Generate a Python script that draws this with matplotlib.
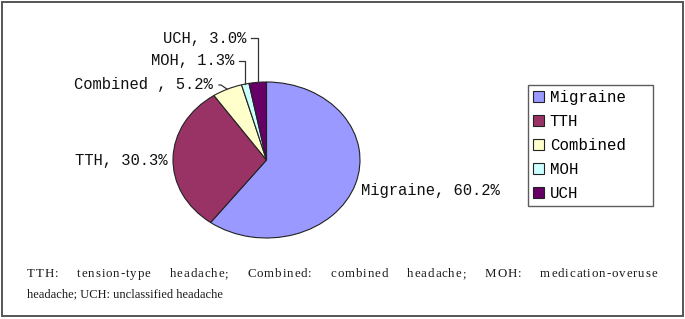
import numpy as np
import matplotlib
matplotlib.use("Agg")
import matplotlib.pyplot as plt
from matplotlib.patches import Rectangle, Patch
from matplotlib.lines import Line2D

W, H = 685, 319

labels = ['Migraine', 'TTH', 'Combined', 'MOH', 'UCH']
pie_labels = ['Migraine, 60.2%', 'TTH, 30.3%', 'Combined , 5.2%', 'MOH, 1.3%', 'UCH, 3.0%']
values = [60.2, 30.3, 5.2, 1.3, 3.0]
colors = ['#9999FF', '#993366', '#FFFFCC', '#CCFFFF', '#660066']
caption_1 = "TTH: tension-type headache; Combined: combined headache; MOH: medication-overuse"
caption_2 = "headache; UCH: unclassified headache"

mono = 'Liberation Mono'
serif = 'Liberation Serif'


def fx(x):
    return x / W


def fy(y):
    return 1 - y / H


fig = plt.figure(figsize=(W / 100, H / 100), dpi=100)
fig.patch.set_facecolor('white')

# outer frame
fig.add_artist(Rectangle((fx(2), fy(316)), fx(681), 314 / H, transform=fig.transFigure,
                         fill=False, edgecolor='#555555', linewidth=1.4))

# pie drawn as ellipse (non-equal aspect)
ax = fig.add_axes([fx(173), fy(238), fx(187), 156 / H])
wedges, _ = ax.pie(values, colors=colors, startangle=90, counterclock=False,
                   wedgeprops=dict(edgecolor='#222222', linewidth=0.8))
ax.set_aspect('auto')
ax.set_xlim(-1, 1)
ax.set_ylim(-1, 1)
ax.axis('off')


def anchor(w):
    a = np.deg2rad((w.theta1 + w.theta2) / 2)
    p = ax.transData.transform((np.cos(a), np.sin(a)))
    return fig.transFigure.inverted().transform(p)


# label positions (left x, center y) in pixels
pos = {'Migraine': (361, 190), 'TTH': (75, 161), 'Combined': (74, 85),
       'MOH': (151, 61), 'UCH': (163, 38)}
for lab, txt, w in zip(labels, pie_labels, wedges):
    x, y = pos[lab]
    fig.text(fx(x), fy(y), txt, family=mono, fontsize=11.2, ha='left', va='center',
             color='#111111')

lc = '#333333'
a = anchor(wedges[4])
fig.add_artist(Line2D([fx(251), a[0], a[0]], [fy(38), fy(38), a[1]], color=lc, lw=0.9))
a = anchor(wedges[3])
fig.add_artist(Line2D([fx(239), a[0], a[0]], [fy(61), fy(61), a[1]], color=lc, lw=0.9))
a = anchor(wedges[2])
fig.add_artist(Line2D([fx(219), fx(221), a[0]], [fy(85), fy(85), a[1]], color=lc, lw=0.9))

# legend
handles = [Patch(facecolor=c, edgecolor='#222222', linewidth=0.8) for c in colors]
leg = fig.legend(handles, labels, loc='upper left',
                 bbox_to_anchor=(fx(528), fy(203), fx(125), 118 / H), mode='expand',
                 prop={'family': mono, 'size': 11.3}, frameon=True, fancybox=False,
                 edgecolor='#333333', handlelength=0.7, handleheight=0.7,
                 handletextpad=0.35, labelspacing=0.57, borderpad=0.33, borderaxespad=0)
leg.get_frame().set_linewidth(1.0)

# caption, first line justified with slightly widened letter spacing
renderer = fig.canvas.get_renderer()
left, right = 27, 657
letter_pad = 0.9
words = caption_1.split(' ')
word_chars = []
for wd in words:
    cs = [fig.text(0, 0, ch, family=serif, fontsize=9.3, ha='left', va='center',
                   color='#1a1a1a') for ch in wd]
    word_chars.append(cs)
total = 0
word_w = []
for wd, cs in zip(words, word_chars):
    ws = [c.get_window_extent(renderer).width for c in cs]
    word_w.append(ws)
    total += sum(ws) + letter_pad * (len(ws) - 1)
gap = (right - left - total) / (len(words) - 1)
x = left
for cs, ws in zip(word_chars, word_w):
    for c, wch in zip(cs, ws):
        c.set_position((fx(x), fy(274)))
        x += wch + letter_pad
    x += gap - letter_pad
fig.text(fx(left), fy(294), caption_2, family=serif, fontsize=9, ha='left', va='center',
         color='#1a1a1a')

fig.savefig('out.png', dpi=100)
